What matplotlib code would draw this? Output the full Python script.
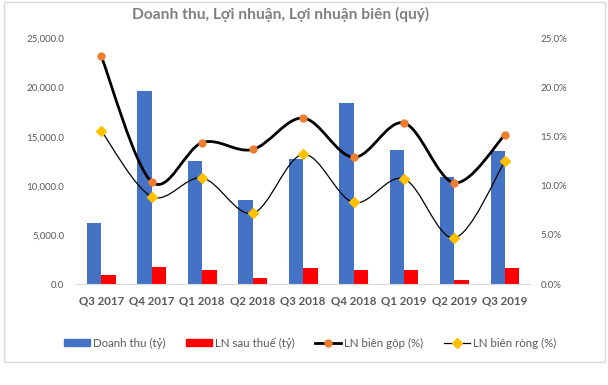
import numpy as np
import matplotlib
matplotlib.use("Agg")
import matplotlib.pyplot as plt
from matplotlib.path import Path
from matplotlib.patches import PathPatch, Rectangle
from matplotlib.lines import Line2D
from matplotlib.ticker import FuncFormatter

plt.rcParams["font.family"] = ["Lato", "DejaVu Sans"]

# ── Data ──────────────────────────────────────────────────────────────────────
quarters = ["Q3 2017", "Q4 2017", "Q1 2018", "Q2 2018", "Q3 2018",
            "Q4 2018", "Q1 2019", "Q2 2019", "Q3 2019"]
revenue = [6200, 19700, 12480, 8600, 12680, 18400, 13600, 10850, 13500]
profit = [950, 1760, 1390, 640, 1660, 1460, 1460, 440, 1660]
gross_margin = [23.2, 10.4, 14.4, 13.7, 16.9, 12.9, 16.4, 10.3, 15.2]
net_margin = [15.6, 8.9, 10.8, 7.2, 13.2, 8.3, 10.7, 4.7, 12.5]

BLUE = "#4472C4"
RED = "#FF0000"
ORANGE = "#ED7D31"
YELLOW = "#FFC000"
TXT = "#595959"


def smooth_path(xs, ys):
    """Excel-style smoothed line as cubic Bezier segments."""
    pts = np.column_stack([xs, ys]).astype(float)
    n = len(pts)
    verts = [pts[0]]
    codes = [Path.MOVETO]
    for i in range(n - 1):
        p0 = pts[i - 1] if i > 0 else pts[i]
        p1, p2 = pts[i], pts[i + 1]
        p3 = pts[i + 2] if i + 2 < n else pts[i + 1]
        c1 = p1 + (p2 - p0) / 6.0
        c2 = p2 - (p3 - p1) / 6.0
        verts += [c1, c2, p2]
        codes += [Path.CURVE4] * 3
    return Path(verts, codes)


fig = plt.figure(figsize=(6.08, 3.85), dpi=100)
ax = fig.add_axes([0.125, 1 - 284 / 385, 0.747, 245.5 / 385])

# chart border
fig.patches.append(Rectangle((4 / 608, 1 - 362 / 385), 601 / 608, 360 / 385,
                             transform=fig.transFigure, fill=False,
                             edgecolor="#d9d9d9", linewidth=1.0))

x = np.arange(len(quarters))
w = 0.2857
ax.bar(x - w / 2, revenue, width=w, color=BLUE)
ax.bar(x + w / 2, profit, width=w, color=RED)
ax.set_xlim(-0.5, len(quarters) - 0.5)
ax.set_ylim(0, 25000)
ax.set_yticks(np.arange(0, 25001, 5000))
ax.yaxis.set_major_formatter(FuncFormatter(lambda v, _: f"{v:,.1f}"))
ax.set_xticks(x)
ax.set_xticklabels(quarters, fontweight="bold")

ax2 = ax.twinx()
ax2.set_ylim(0, 25)
ax2.set_yticks(np.arange(0, 26, 5))
ax2.yaxis.set_major_formatter(FuncFormatter(lambda v, _: f"{v:.1f}%"))

ax2.add_patch(PathPatch(smooth_path(x, gross_margin), fill=False,
                        edgecolor="black", linewidth=2.0, zorder=3))
ax2.plot(x, gross_margin, linestyle="none", marker="o", markersize=5,
         color=ORANGE, zorder=4)
ax2.add_patch(PathPatch(smooth_path(x, net_margin), fill=False,
                        edgecolor="black", linewidth=0.9, zorder=3))
ax2.plot(x, net_margin, linestyle="none", marker="D", markersize=5,
         color=YELLOW, zorder=4)

for a in (ax, ax2):
    for s in a.spines.values():
        s.set_visible(False)
    a.tick_params(length=0, labelsize=7, colors=TXT)
ax.spines["bottom"].set_visible(True)
ax.spines["bottom"].set_color("#d9d9d9")
ax.tick_params(axis="y", pad=8.5)
ax.tick_params(axis="x", pad=8, labelsize=8.3)
ax2.tick_params(axis="y", pad=7.5)

fig.text(0.461, 1 - 14 / 385, "Doanh thu, Lợi nhuận, Lợi nhuận biên (quý)",
         ha="center", va="center", fontsize=11.2, fontweight="bold",
         color="#7f7f7f")

handles = [
    Rectangle((0, 0), 1, 1, color=BLUE),
    Rectangle((0, 0), 1, 1, color=RED),
    Line2D([], [], color="black", linewidth=2.0, marker="o",
           markersize=5, markerfacecolor=ORANGE, markeredgecolor=ORANGE),
    Line2D([], [], color="black", linewidth=0.9, marker="D",
           markersize=5, markerfacecolor=YELLOW, markeredgecolor=YELLOW),
]
labels = ["Doanh thu (tỷ)", "LN sau thuế (tỷ)", "LN biên gộp (%)",
          "LN biên ròng (%)"]
fig.legend(handles, labels, loc="center", ncol=4,
           bbox_to_anchor=(0.51, 1 - 343 / 385), frameon=False,
           fontsize=8.3, labelcolor=TXT, handlelength=2.25, handleheight=0.55,
           handletextpad=0.25, columnspacing=1.8)

fig.savefig("out.png", dpi=100)
